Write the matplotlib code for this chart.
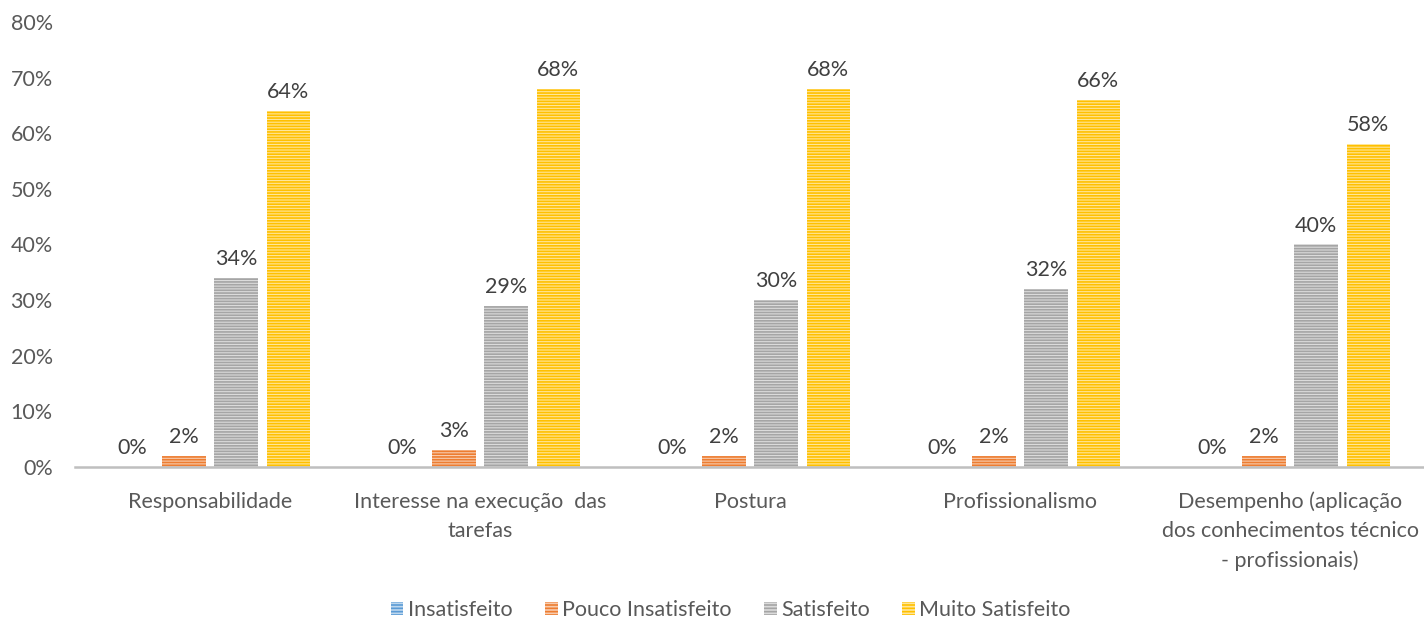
import matplotlib.pyplot as plt
import numpy as np
from matplotlib.patches import Patch

plt.rcParams['font.family'] = ['Lato', 'DejaVu Sans']
plt.rcParams['hatch.linewidth'] = 1.2

# dados
categorias = ['Responsabilidade',
              'Interesse na execução  das\ntarefas',
              'Postura',
              'Profissionalismo',
              'Desempenho (aplicação\ndos conhecimentos técnico\n- profissionais)']
series = ['Insatisfeito', 'Pouco Insatisfeito', 'Satisfeito', 'Muito Satisfeito']
insatisfeito = [0, 0, 0, 0, 0]
pouco_insatisfeito = [2, 3, 2, 2, 2]
satisfeito = [34, 29, 30, 32, 40]
muito_satisfeito = [64, 68, 68, 66, 58]
valores = [insatisfeito, pouco_insatisfeito, satisfeito, muito_satisfeito]

cores = ['#5B9BD5', '#ED7D31', '#A5A5A5', '#FFC000']
cores_claras = ['#BDD7EE', '#F8CBAD', '#DBDBDB', '#FFE699']

fig = plt.figure(figsize=(14.24, 6.2), dpi=100)
ax = fig.add_axes([0.0527, 0.247, 0.948, 0.7175])

x = np.arange(len(categorias))
passo = 0.193
largura = 0.16

for i, (nome, vals) in enumerate(zip(series, valores)):
    pos = x + (i - 1.5) * passo
    ax.bar(pos, vals, largura, color=cores_claras[i], edgecolor=cores[i],
           hatch='------', linewidth=0, label=nome)
    for xp, v in zip(pos, vals):
        ax.text(xp, v + 1.6, f'{v}%', ha='center', va='bottom',
                fontsize=15.5, color='#404040')

ax.set_xlim(-0.5, 4.5)
ax.set_ylim(0, 80)
ax.set_yticks(range(0, 81, 10))
ax.set_yticklabels([f'{t}%' for t in range(0, 81, 10)])
ax.set_xticks(x)
ax.set_xticklabels(categorias, linespacing=1.55)
ax.tick_params(axis='both', length=0, labelsize=15.5, colors='#595959')
ax.tick_params(axis='x', pad=18)
ax.tick_params(axis='y', pad=16)

for s in ['top', 'right', 'left']:
    ax.spines[s].set_visible(False)
ax.spines['bottom'].set_color('#BFBFBF')
ax.spines['bottom'].set_linewidth(1.8)

handles = [Patch(facecolor=cores_claras[i], edgecolor=cores[i], hatch='-----',
                 linewidth=0, label=series[i]) for i in range(4)]
fig.legend(handles=handles, loc='center', bbox_to_anchor=(0.513, 0.016),
           ncol=4, frameon=False, fontsize=15.5, handlelength=0.6,
           handleheight=0.6, handletextpad=0.2, columnspacing=1.5,
           labelcolor='#595959')

plt.savefig('out.png', dpi=100)
